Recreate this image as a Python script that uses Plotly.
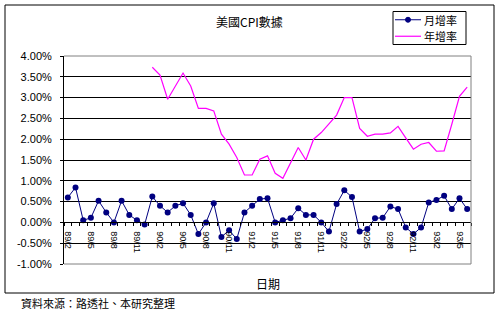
import plotly.graph_objects as go

# Monthly categories, Feb 1989 - Jun 1993
months = [
    "89/2", "89/3", "89/4", "89/5", "89/6", "89/7", "89/8", "89/9", "89/10", "89/11", "89/12",
    "90/1", "90/2", "90/3", "90/4", "90/5", "90/6", "90/7", "90/8", "90/9", "90/10", "90/11", "90/12",
    "91/1", "91/2", "91/3", "91/4", "91/5", "91/6", "91/7", "91/8", "91/9", "91/10", "91/11", "91/12",
    "92/1", "92/2", "92/3", "92/4", "92/5", "92/6", "92/7", "92/8", "92/9", "92/10", "92/11", "92/12",
    "93/1", "93/2", "93/3", "93/4", "93/5", "93/6",
]

# Month-over-month CPI change (%)
monthly_rate = [
    0.60, 0.84, 0.05, 0.11, 0.52, 0.24, 0.00, 0.52, 0.18, 0.05, -0.05,
    0.62, 0.40, 0.24, 0.40, 0.46, 0.18, -0.28, 0.00, 0.46, -0.35, -0.19, -0.40,
    0.24, 0.40, 0.56, 0.58, 0.00, 0.05, 0.10, 0.34, 0.18, 0.18, 0.00, -0.22,
    0.44, 0.77, 0.61, -0.22, -0.16, 0.10, 0.11, 0.38, 0.32, -0.12, -0.28, -0.12,
    0.48, 0.54, 0.64, 0.32, 0.58, 0.32,
]

# Year-over-year CPI change (%), available from 90/1
annual_rate = [None] * 11 + [
    3.73, 3.54, 2.96, 3.28, 3.59, 3.28, 2.74, 2.74, 2.68, 2.12, 1.88, 1.56,
    1.14, 1.14, 1.52, 1.60, 1.18, 1.06, 1.44, 1.80, 1.50, 2.00, 2.16, 2.36,
    2.58, 3.00, 3.00, 2.26, 2.07, 2.12, 2.12, 2.15, 2.31, 2.03, 1.76, 1.88,
    1.92, 1.71, 1.72, 2.36, 3.03, 3.25,
]

y_ticks = [-1.0, -0.5, 0.0, 0.5, 1.0, 1.5, 2.0, 2.5, 3.0, 3.5, 4.0]
y_tick_text = ["-1.00%", "-0.50%", "0.00%", "0.50%", "1.00%", "1.50%",
               "2.00%", "2.50%", "3.00%", "3.50%", "4.00%"]

title_text = "美國CPI數據"
series_names = ["月增率", "年增率"]
x_title = "日期"
source_text = "資料來源：路透社、本研究整理"

NAVY = "#000080"
MAGENTA = "#FF00FF"
CJK = "Noto Sans CJK TC"
LATIN = "Liberation Sans, Arial, sans-serif"

W, H = 500, 324
L, R, T, B = 64, 29, 56, 60
PW, PH = W - L - R, H - T - B


def px(x):
    return (x - L) / PW


def py(y):
    return (H - B - y) / PH


x_idx = list(range(len(months)))

fig = go.Figure()
fig.add_trace(go.Scatter(
    x=x_idx, y=monthly_rate, mode="lines+markers", name=series_names[0],
    line=dict(color=NAVY, width=1), marker=dict(color=NAVY, size=6),
    cliponaxis=False,
))
fig.add_trace(go.Scatter(
    x=x_idx, y=annual_rate, mode="lines", name=series_names[1],
    line=dict(color=MAGENTA, width=1.2), connectgaps=False,
))

ymin, ymax = y_ticks[0], y_ticks[-1]
zero_pos = (0 - ymin) / (ymax - ymin)

fig.update_layout(
    width=W, height=H, margin=dict(l=L, r=R, t=T, b=B),
    paper_bgcolor="white", plot_bgcolor="white", showlegend=False,
    xaxis=dict(
        range=[-0.5, len(months) - 0.5], anchor="free", position=zero_pos,
        tickmode="array", tickvals=x_idx[::3], ticktext=months[::3],
        tickangle=90, ticks="", showgrid=False, zeroline=False,
        showline=True, linecolor="black", linewidth=1,
        ticklabelstandoff=6,
        tickfont=dict(family=LATIN, size=9, color="black"),
        minor=dict(tick0=0.5, dtick=1, ticks="outside", ticklen=3,
                   tickcolor="black", tickwidth=1, showgrid=False),
    ),
    yaxis=dict(
        range=[ymin, ymax], tickmode="array", tickvals=y_ticks, ticktext=y_tick_text,
        ticks="outside", ticklen=3, tickcolor="black", tickwidth=1,
        showline=True, linecolor="black", linewidth=1,
        showgrid=True, gridcolor="black", gridwidth=1, zeroline=False,
        ticklabelstandoff=6,
        tickfont=dict(family=LATIN, size=11, color="black"),
    ),
)

# legend rows
LEG_FONT = 11
row1, row2 = 19.75, 36.25

shapes = []
# grey frame on top, right and bottom of the plotting area
shapes.append(dict(type="path", xref="paper", yref="paper",
                   path="M 0,1 L 1,1 L 1,0 L 0,0",
                   line=dict(color="#808080", width=1), layer="above"))
# outer chart border
shapes.append(dict(type="rect", xref="paper", yref="paper",
                   x0=px(5), x1=px(494), y0=py(293), y1=py(5),
                   line=dict(color="black", width=1), fillcolor="rgba(0,0,0,0)"))
# legend box and keys
shapes.append(dict(type="rect", xref="paper", yref="paper",
                   x0=px(393), x1=px(466), y0=py(44.5), y1=py(11.5),
                   line=dict(color="black", width=1), fillcolor="white"))
shapes.append(dict(type="line", xref="paper", yref="paper",
                   x0=px(395), x1=px(421), y0=py(row1), y1=py(row1),
                   line=dict(color=NAVY, width=1)))
shapes.append(dict(type="circle", xref="paper", yref="paper",
                   x0=px(405.5), x1=px(410.5), y0=py(row1 + 2.5), y1=py(row1 - 2.5),
                   line=dict(color=NAVY, width=1), fillcolor=NAVY))
shapes.append(dict(type="line", xref="paper", yref="paper",
                   x0=px(395), x1=px(421), y0=py(row2), y1=py(row2),
                   line=dict(color=MAGENTA, width=1.2)))
fig.update_layout(shapes=shapes)

annotations = [
    dict(text=title_text, x=px(249), y=py(22), xref="paper", yref="paper",
         showarrow=False, xanchor="center", yanchor="middle",
         font=dict(family=CJK, size=12, color="black")),
    dict(text=series_names[0], x=px(423), y=py(row1), xref="paper", yref="paper",
         showarrow=False, xanchor="left", yanchor="middle", borderpad=0,
         font=dict(family=CJK, size=LEG_FONT, color="black")),
    dict(text=series_names[1], x=px(423), y=py(row2), xref="paper", yref="paper",
         showarrow=False, xanchor="left", yanchor="middle", borderpad=0,
         font=dict(family=CJK, size=LEG_FONT, color="black")),
    dict(text=x_title, x=px(268), y=py(283), xref="paper", yref="paper",
         showarrow=False, xanchor="center", yanchor="middle",
         font=dict(family=CJK, size=12, color="black")),
    dict(text=source_text, x=px(19), y=py(303), xref="paper", yref="paper",
         showarrow=False, xanchor="left", yanchor="middle",
         font=dict(family=CJK, size=11, color="black")),
]
fig.update_layout(annotations=annotations)

fig.write_html("out.html")
